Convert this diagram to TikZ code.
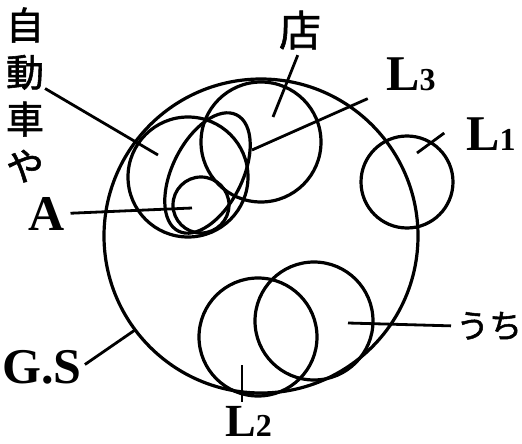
\documentclass[tikz,border=0pt]{standalone}
\usepackage{fontspec}
\setmainfont{Liberation Serif}
\newfontfamily\jpfont[FakeBold=1.5]{Noto Sans CJK JP}
\newcommand\lsub[1]{{\fontsize{32}{32}\selectfont #1}}

\begin{document}
\begin{tikzpicture}[x=1pt, y=-1pt,
  ring/.style={draw, line width=3.2pt},
  ptr/.style={line width=2.8pt},
  lab/.style={inner sep=0pt, font=\fontsize{50}{50}\selectfont\bfseries},
  jlab/.style={inner sep=0pt, font=\fontsize{38}{47}\selectfont\jpfont, align=center}]
\useasboundingbox (0,0) rectangle (522,444);
% the whole ground (G.S)
\draw[ring] (261,236) circle (157);
% circles inside: centre and radius
\foreach \x/\y/\r in {188/177/60, 261/142/60, 201/205/28, 407/182/46, 258/337/59, 314/321/59}
  \draw[ring] (\x,\y) circle (\r);
% the slanted one (L3)
\draw[ring, rotate around={63.4:(207.5,173)}] (207.5,173) ellipse [x radius=65, y radius=35];
% tips of the pointers
\coordinate (pCar) at (158,155);
\coordinate (pShop) at (273,117);
\coordinate (pL3) at (252,150);
\coordinate (pL1) at (417,153);
\coordinate (pA) at (192,208);
\coordinate (pGS) at (135,330);
\coordinate (pL2) at (242,365);
\coordinate (pHome) at (348,323);
% labels
\node[jlab] (car) at (25,95) {自\\動\\車\\や};
\node[jlab, font=\fontsize{42}{42}\selectfont\jpfont] (shop) at (300,30) {店};
\node[lab, anchor=base west] (lThree) at (386,90) {L\lsub{3}};
\node[lab, anchor=base west] (lOne) at (466,150) {L\lsub{1}};
\node[lab, anchor=base west] (lA) at (28,230) {A};
\node[lab, anchor=base west] (lGS) at (2,383) {G.S};
\node[lab, font=\fontsize{46}{46}\selectfont\bfseries, anchor=base west] (lTwo) at (225,436) {L\lsub{2}};
\node[jlab, font=\fontsize{33}{33}\selectfont\jpfont, anchor=west] (home) at (456,326) {うち};
% pointers
\draw[ptr, shorten <=1pt] ([yshift=7pt]car.east) -- (pCar);
\draw[ptr, shorten <=6pt] (shop.south) -- (pShop);
\draw[ptr, shorten <=20pt] (lThree.south west) -- (pL3);
\draw[ptr, shorten <=27pt] (lOne.north west) -- (pL1);
\draw[ptr, shorten <=6pt] (lA.east) -- (pA);
\draw[ptr, shorten <=4pt] (lGS.east) -- (pGS);
\draw[ptr, shorten <=4pt] (pL2 |- lTwo.north) -- (pL2);
\draw[ptr, shorten <=5pt] (home.west) -- (pHome);
\end{tikzpicture}
\end{document}
